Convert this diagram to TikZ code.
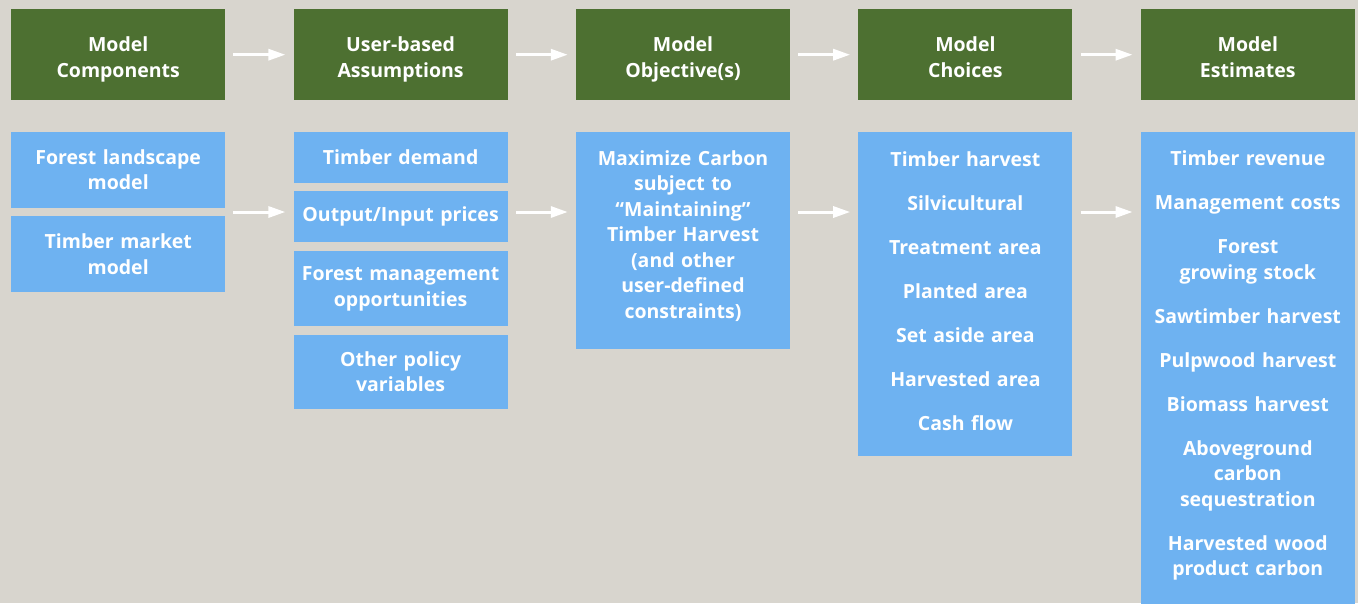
\documentclass[tikz,border=0pt]{standalone}
\usepackage{fontspec}
\setmainfont{Open Sans}
\usetikzlibrary{
  arrows.meta,
  positioning
}
\definecolor{headgreen}{RGB}{77,112,49}
\definecolor{itemblue}{RGB}{110,178,241}
\definecolor{paper}{RGB}{216,213,206}

\begin{document}
\begin{tikzpicture}[
      x=1pt,y=1pt,
      item/.style={
         rectangle,
         fill=itemblue,
         text=white,
         minimum width=214pt,
         text width=214pt,
         align=center,
         inner sep=0pt,
         font=\bfseries\fontsize{19.5}{25.5}\selectfont
      },
      header/.style={
         item,
         fill=headgreen,
         minimum height=91pt,
         execute at begin node={\rule{0pt}{24.5pt}},
         execute at end node={\vphantom{p}}
      },
      lift/.style={execute at end node={\rule[-#1]{0pt}{0pt}}},
      flow/.style={-{Triangle[length=17pt,width=11pt]},line width=3pt,draw=white,
         shorten <=8pt,shorten >=8pt},
    ]
    \fill[paper] (0,0) rectangle (1358,-603);
    \useasboundingbox (0,0) rectangle (1358,-603);
    % header row
    \node (comp) [header, anchor=north west] at (11,-9) {Model\\Components};
    \node (assump) [header, right=68pt of comp] {User-based\\Assumptions};
    \node (objhead) [header, right=68pt of assump] {Model\\Objective(s)};
    \node (choicehead) [header, right=68pt of objhead] {Model\\Choices};
    \node (esthead) [header, right=68pt of choicehead] {Model\\Estimates};
    % boxes below
    \node (landscape) [item, minimum height=76pt, below=31pt of comp] {Forest landscape\\model};
    \node (market) [item, minimum height=76pt, below=8pt of landscape] {Timber market\\model};
    \node (demand) [item, minimum height=51pt, below=31pt of assump] {Timber demand};
    \node (prices) [item, minimum height=51pt, below=8pt of demand] {Output/Input prices};
    \node (mgmt) [item, minimum height=75pt, below=9pt of prices] {Forest management\\opportunities};
    \node (policy) [item, minimum height=74pt, below=8pt of mgmt] {Other policy\\variables};
    \node (objective) [item, lift=12pt, minimum height=217pt, below=31pt of objhead]
       {Maximize Carbon\\subject to\\“Maintaining”\\Timber Harvest\\(and other\\user-defined\\constraints)};
    \node (choices) [item, lift=6pt, minimum height=324pt, below=31pt of choicehead]
       {Timber harvest\\[18.5pt]Silvicultural\\[18.5pt]Treatment area\\[18.5pt]Planted area\\[18.5pt]%
        Set aside area\\[18.5pt]Harvested area\\[18.5pt]Cash flow};
    \node (estimates) [item, lift=8.5pt, minimum height=472pt, below=31pt of esthead]
       {Timber revenue\\[18.5pt]Management costs\\[18.5pt]Forest\\growing stock\\[18.5pt]%
        Sawtimber harvest\\[18.5pt]Pulpwood harvest\\[18.5pt]Biomass harvest\\[18.5pt]%
        Aboveground\\carbon\\sequestration\\[18.5pt]Harvested wood\\product carbon};
    \coordinate (flowrow) at (0,-212);
    \draw[flow] (comp) -- (assump);
    \draw[flow] (assump) -- (objhead);
    \draw[flow] (objhead) -- (choicehead);
    \draw[flow] (choicehead) -- (esthead);
    \draw[flow] (landscape.east |- flowrow) -- (demand.west |- flowrow);
    \draw[flow] (demand.east |- flowrow) -- (objective.west |- flowrow);
    \draw[flow] (objective.east |- flowrow) -- (choices.west |- flowrow);
    \draw[flow] (choices.east |- flowrow) -- (estimates.west |- flowrow);
\end{tikzpicture}
\end{document}
